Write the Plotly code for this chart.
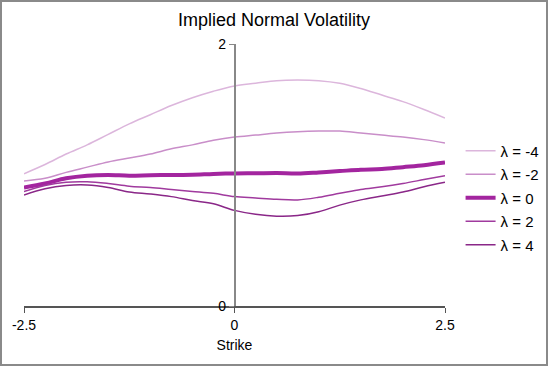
import plotly.graph_objects as go

strike = [-2.5, -2.25, -2.0, -1.75, -1.5, -1.25, -1.0, -0.75, -0.5, -0.25, 0.0,
          0.25, 0.5, 0.75, 1.0, 1.25, 1.5, 1.75, 2.0, 2.25, 2.5]

vol_m4 = [1.01, 1.08, 1.16, 1.23, 1.31, 1.39, 1.46, 1.53, 1.59, 1.64, 1.68,
          1.70, 1.72, 1.725, 1.72, 1.70, 1.66, 1.61, 1.56, 1.50, 1.435]
vol_m2 = [0.955, 0.975, 1.02, 1.06, 1.10, 1.13, 1.16, 1.20, 1.23, 1.265, 1.29,
          1.305, 1.32, 1.33, 1.335, 1.335, 1.32, 1.305, 1.29, 1.27, 1.245]
vol_0 = [0.905, 0.935, 0.975, 0.995, 1.0, 0.995, 0.998, 1.0, 1.002, 1.008, 1.012,
         1.013, 1.015, 1.012, 1.02, 1.03, 1.04, 1.045, 1.06, 1.075, 1.095]
vol_2 = [0.873, 0.92, 0.945, 0.948, 0.935, 0.915, 0.905, 0.89, 0.875, 0.86, 0.835,
         0.825, 0.815, 0.81, 0.83, 0.86, 0.89, 0.91, 0.935, 0.965, 0.995]
vol_4 = [0.847, 0.895, 0.92, 0.924, 0.905, 0.87, 0.855, 0.835, 0.805, 0.78, 0.73,
         0.70, 0.685, 0.69, 0.72, 0.77, 0.81, 0.84, 0.87, 0.91, 0.944]

series = [
    ("λ = -4", vol_m4, "#dcb6dc", 1.5),
    ("λ = -2", vol_m2, "#c98ec9", 1.5),
    ("λ = 0", vol_0, "#a3259f", 4),
    ("λ = 2", vol_2, "#a03a9e", 1.5),
    ("λ = 4", vol_4, "#8a2788", 1.5),
]

fig = go.Figure()
for name, vals, color, width in series:
    fig.add_trace(go.Scatter(x=strike, y=vals, mode="lines", name=name, legendgroup=name,
                             line=dict(color=color, width=width, shape="spline")))

W, H = 421, 262
fig.add_shape(type="rect", xref="paper", yref="paper",
              x0=-23 / W, x1=1 + 102 / W, y0=-59 / H, y1=1 + 43 / H,
              line=dict(color="#8a8a8a", width=2))

fig.update_layout(
    width=548, height=366,
    margin=dict(l=24, r=103, t=44, b=60, autoexpand=False),
    paper_bgcolor="white", plot_bgcolor="white",
    font=dict(family="Liberation Sans, Arial, sans-serif", size=14, color="black"),
    title=dict(text="Implied Normal Volatility", x=0.5, xref="container",
               y=1 - 20 / 366, yanchor="middle", font=dict(size=18)),
    xaxis=dict(range=[-2.5, 2.5], tickvals=[-2.5, 0, 2.5], ticktext=["-2.5", "0", "2.5"],
               showgrid=False, zeroline=False, showline=True, linecolor="#555",
               linewidth=1.5, ticks="outside", ticklen=5, tickcolor="#555",
               tickfont=dict(size=14),
               title=dict(text="Strike", standoff=9, font=dict(size=14))),
    yaxis=dict(range=[0, 2], tickvals=[0, 2], showgrid=False, zeroline=False,
               showline=True, linecolor="#888", linewidth=1.5, ticks="outside",
               ticklen=5, tickcolor="#888", tickfont=dict(size=14),
               anchor="free", position=0.5),
    legend=dict(x=1.037, xanchor="left", y=0.412, yanchor="middle", font=dict(size=15),
                tracegroupgap=1, bgcolor="rgba(0,0,0,0)"),
)

fig.write_html("out.html", config={"displayModeBar": False},
               post_script="document.body.style.margin='0';")
